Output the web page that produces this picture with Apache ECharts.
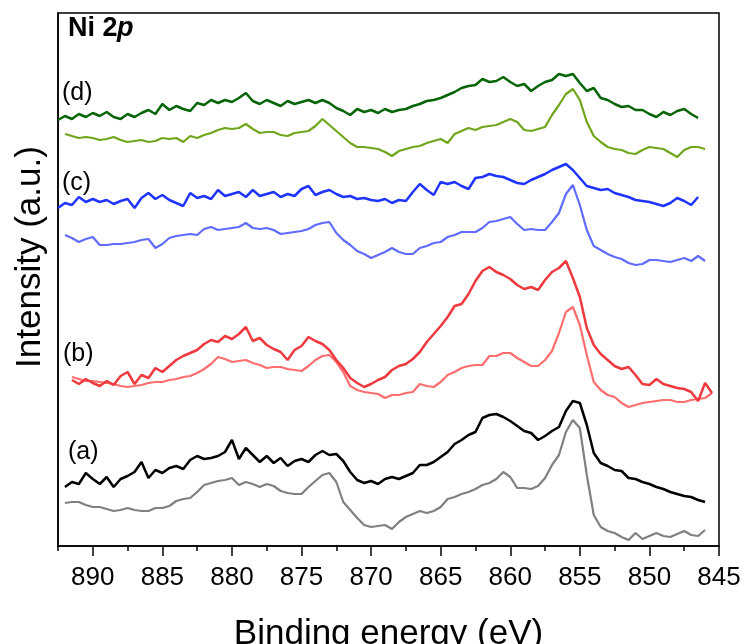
<!DOCTYPE html>
<html><head><meta charset="utf-8">
<script src="https://cdn.jsdelivr.net/npm/echarts@6/dist/echarts.min.js"></script>
<style>html,body{margin:0;padding:0;background:#fff}#c{width:744px;height:644px}</style>
</head><body><div id="c"></div><script>
// Binding energy sampling grid (eV)
const energy = [892.5,892,891.5,891,890.5,890,889.5,889,888.5,888,887.5,887,886.5,886,885.5,885,884.5,884,883.5,883,882.5,882,881.5,881,880.5,880,879.5,879,878.5,878,877.5,877,876.5,876,875.5,875,874.5,874,873.5,873,872.5,872,871.5,871,870.5,870,869.5,869,868.5,868,867.5,867,866.5,866,865.5,865,864.5,864,863.5,863,862.5,862,861.5,861,860.5,860,859.5,859,858.5,858,857.5,857,856.5,856,855.5,855,854.5,854,853.5,853,852.5,852,851.5,851,850.5,850,849.5,849,848.5,848,847.5,847,846.5,846,845.5];
const xTickLabels = [890,885,880,875,870,865,860,855,850,845];
const curveLabels = ['(d)','(c)','(b)','(a)'];

// Intensities (a.u., stacked offsets as in figure)
const dRaw = [426,430,427,432,429,433,430,434,429,427, 432,429,433,436,432,442,436,440,437,435, 443,441,446,443,446,444,448,453,445,442, 446,443,440,445,442,444,446,443,446,443, 438,435,431,437,434,436,433,437,434,436, 437,440,442,445,446,448,451,454,458,460, 461,467,464,465,469,464,460,462,455,460, 464,466,472,470,472,463,455,458,448,446, 442,439,440,436,436,432,429,434,431,435, 437,432,428,null,null];
const dRef = [null,412,410,408,409,408,406,407,409,406, 404,405,406,404,405,408,407,408,404,410, 408,411,413,416,418,417,418,422,417,413, 414,414,411,410,413,414,415,420,427,421, 415,409,403,399,399,398,397,394,390,395, 397,399,400,403,405,407,403,412,415,418, 416,419,420,421,424,427,424,416,415,417, 419,431,441,452,457,446,424,410,404,399, 397,396,393,392,396,399,398,397,393,389, 396,399,399,397,null];
const cRaw = [338,343,341,349,344,347,344,346,342,345, 347,338,348,353,347,351,346,343,340,353, 348,350,347,356,350,352,354,349,356,350, 352,354,349,352,350,357,360,351,354,356, 352,349,350,347,348,346,345,347,343,346, 345,354,362,356,351,364,362,364,360,357, 368,369,372,370,369,366,363,362,366,369, 372,376,379,382,376,368,360,358,356,357, 353,351,349,346,345,344,342,340,343,348, 345,341,349,null,null];
const cRef = [null,311,308,304,307,309,301,301,302,302, 303,304,306,307,298,302,308,310,311,312, 311,317,319,316,317,318,319,323,318,317, 318,316,312,313,314,315,317,321,323,324, 313,306,301,295,292,288,291,294,298,294, 292,292,298,300,303,304,309,311,314,314, 314,318,324,325,327,329,322,316,317,316, 316,324,333,352,361,341,316,300,296,292, 289,287,283,281,282,286,286,285,284,286, 288,285,290,285,null];
const bRaw = [null,null,166,162,167,163,160,165,161,170, 174,162,171,168,178,174,180,186,190,193, 196,202,206,204,210,207,212,219,205,208, 201,197,194,186,196,200,209,205,202,196, 186,178,168,163,159,162,166,169,176,180, 182,187,194,204,212,220,229,240,242,252, 265,275,279,274,271,267,261,257,259,256, 266,274,278,285,268,249,218,201,192,186, 180,177,179,171,162,161,167,162,160,158, 157,154,145,163,153];
const bRef = [null,null,169,167,165,165,164,163,162,160, 159,160,161,163,164,164,166,167,169,170, 173,177,182,189,187,184,185,186,183,181, 178,179,179,177,176,175,180,186,190,191, 184,174,160,156,154,153,152,148,151,151, 153,154,162,160,159,164,171,174,178,180, 181,181,190,190,193,193,188,184,180,180, 186,195,213,234,239,221,191,164,156,151, 149,143,139,141,143,144,145,146,146,144, 144,146,147,148,153];
const aRaw = [null,59,64,62,73,67,62,69,59,67, 70,74,84,68,76,73,78,80,77,86, 90,87,88,90,94,106,87,98,91,84, 90,83,88,80,85,87,84,91,95,91, 92,85,74,66,63,65,62,67,69,67, 70,73,81,81,84,89,94,102,106,111, 114,128,131,132,129,125,120,115,113,106, 110,115,119,135,145,143,121,93,83,80, 76,75,68,67,64,62,59,57,54,52, 50,49,46,44,null];
const aRef = [null,43,44,44,41,39,39,37,35,36, 38,36,35,35,38,38,40,45,47,48, 54,61,63,65,66,68,61,64,62,59, 62,60,55,53,52,52,59,65,71,73, 64,44,36,28,21,19,20,21,17,24, 29,32,35,33,35,39,47,49,52,54, 57,61,63,67,74,69,58,58,57,60, 68,81,91,114,126,118,71,31,19,15, 13,9,6,13,7,10,13,10,9,12, 15,11,10,16,null];

const FONT = '"Liberation Sans", Arial, Helvetica, sans-serif';
function pairs(vals){ const out=[]; for(let i=0;i<energy.length;i++){ if(vals[i]!=null) out.push([energy[i], vals[i]]);} return out; }

const defs = [
  {name:'a-ref', vals:aRef, color:'#808080', w:2.2},
  {name:'a-raw', vals:aRaw, color:'#000000', w:2.5},
  {name:'b-ref', vals:bRef, color:'#ff6e6e', w:2.2},
  {name:'b-raw', vals:bRaw, color:'#ee3a3e', w:2.5},
  {name:'c-ref', vals:cRef, color:'#5f6cff', w:2.2},
  {name:'c-raw', vals:cRaw, color:'#1f35ff', w:2.5},
  {name:'d-ref', vals:dRef, color:'#6fa61c', w:2.2},
  {name:'d-raw', vals:dRaw, color:'#056405', w:2.5}
];

const chart = echarts.init(document.getElementById('c'), null, {renderer:'canvas'});
const labelPos = [[62,93],[62,183],[63,354],[68,452]];
const graphics = curveLabels.map((t,i)=>({type:'text', x:labelPos[i][0], y:labelPos[i][1], silent:true,
  style:{text:t, fill:'#000', fontSize:25, fontFamily:FONT, align:'left', verticalAlign:'middle', textAlign:'left', textVerticalAlign:'middle'}}));
graphics.push({type:'text', x:68, y:29, style:{text:'Ni 2', fill:'#000', fontSize:27, fontWeight:'bold', fontFamily:FONT, align:'left', verticalAlign:'middle', textAlign:'left', textVerticalAlign:'middle'}});
graphics.push({type:'text', x:117, y:29, style:{text:'p', fill:'#000', fontSize:27, fontWeight:'bold', fontStyle:'italic', fontFamily:FONT, align:'left', verticalAlign:'middle', textAlign:'left', textVerticalAlign:'middle'}});
graphics.push({type:'text', x:30, y:257, rotation:Math.PI/2, style:{text:'Intensity (a.u.)', fill:'#000', fontSize:35, fontFamily:FONT, align:'center', verticalAlign:'middle', textAlign:'center', textVerticalAlign:'middle'}});

chart.setOption({
  animation:false,
  backgroundColor:'#fff',
  grid:[
    {left:58, right:25, top:13, bottom:98, show:true, borderColor:'#000', borderWidth:1.5, outerBoundsMode:'none', containLabel:false},
    {left:92.8, right:25, top:13, bottom:98, show:false, outerBoundsMode:'none', containLabel:false}
  ],
  xAxis:[
    {gridIndex:0, type:'value', min:845, max:892.5, interval:2.5, inverse:true,
     axisLine:{lineStyle:{color:'#000', width:1.5}},
     axisTick:{length:5, lineStyle:{color:'#000', width:1.5}},
     axisLabel:{formatter:v=> xTickLabels.includes(v) ? String(v) : '', fontSize:26, color:'#000', fontFamily:FONT, margin:19},
     splitLine:{show:false},
     name:'Binding energy (eV)', nameLocation:'middle', nameGap:71,
     nameTextStyle:{fontSize:35, color:'#000', fontFamily:FONT}},
    {gridIndex:1, type:'value', min:845, max:890, interval:5, inverse:true,
     axisLine:{show:false}, axisTick:{length:10, lineStyle:{color:'#000', width:1.5}},
     axisLabel:{show:false}, splitLine:{show:false}}
  ],
  yAxis:[
    {gridIndex:0, type:'value', min:0, max:533, axisLine:{show:true, lineStyle:{color:'#000', width:1.5}},
     axisTick:{show:false}, axisLabel:{show:false}, splitLine:{show:false}},
    {gridIndex:1, type:'value', min:0, max:533, show:false}
  ],
  graphic: graphics,
  series: defs.map(d=>({name:d.name, type:'line', xAxisIndex:0, yAxisIndex:0, data:pairs(d.vals),
    showSymbol:false, symbol:'none', smooth:false, lineStyle:{color:d.color, width:d.w}, itemStyle:{color:d.color}}))
});
</script></body></html>
